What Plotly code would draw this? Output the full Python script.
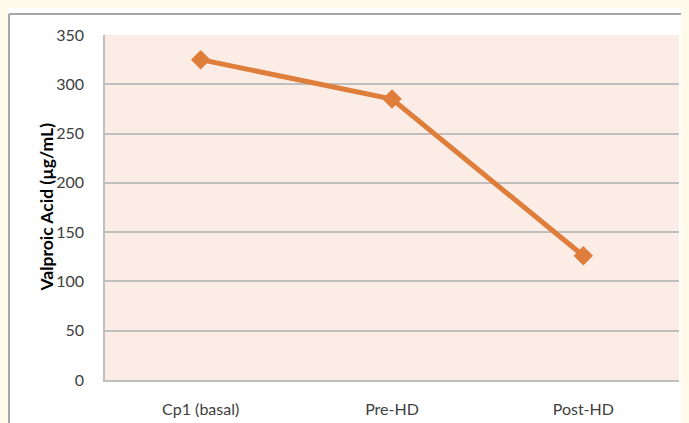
import plotly.graph_objects as go

categories = ["Cp1 (basal)", "Pre-HD", "Post-HD"]
values = [325, 285, 126]
y_ticks = [0, 50, 100, 150, 200, 250, 300, 350]

# page body has an 8px margin, so the figure is laid out 8px smaller
OFF = 8
W, H = 689 - OFF, 423 - OFF
L, R, T, B = 105 - OFF, 10, 35 - OFF, 43
pw, ph = W - L - R, H - T - B

def px_x(x):  # screen px -> paper
    return (x - OFF - L) / pw

def px_y(y):
    return (H - B - (y - OFF)) / ph

fig = go.Figure()
fig.add_trace(go.Scatter(
    x=categories, y=values, mode="lines+markers",
    line=dict(color="#DE7E3A", width=5),
    marker=dict(symbol="diamond", size=15, color="#DE7E3A"),
    showlegend=False,
))

shapes = [
    dict(type="rect", xref="paper", yref="paper", layer="below",
         x0=px_x(7), x1=px_x(720), y0=px_y(460), y1=px_y(5),
         fillcolor="white", line=dict(width=0)),
    dict(type="rect", xref="paper", yref="paper", layer="below",
         x0=0, x1=1, y0=0, y1=1,
         fillcolor="#FCECE6", line=dict(width=0)),
    dict(type="line", xref="paper", yref="paper", layer="below",
         x0=px_x(9), x1=px_x(720), y0=px_y(14), y1=px_y(14),
         line=dict(color="#A6A6A6", width=2)),
    dict(type="line", xref="paper", yref="paper", layer="below",
         x0=px_x(9), x1=px_x(9), y0=px_y(14), y1=px_y(460),
         line=dict(color="#A6A6A6", width=2)),
]

fig.update_layout(
    width=W, height=H,
    margin=dict(l=L, r=R, t=T, b=B, autoexpand=False),
    paper_bgcolor="#FFFAEA",
    plot_bgcolor="#FCECE6",
    font=dict(family="Lato, Open Sans, sans-serif", color="#404040", size=16),
    shapes=shapes,
    annotations=[dict(
        text="<b>Valproic Acid (µg/mL)</b>", textangle=-90,
        xref="paper", yref="paper", x=px_x(46), y=0.5,
        showarrow=False, font=dict(size=17.5, color="#000000"),
        xanchor="center", yanchor="middle",
    )],
)
fig.update_xaxes(
    type="category", range=[-0.5, 2.5], automargin=False,
    showgrid=False, showline=True, linecolor="#BFBFBF", linewidth=1.5,
    ticks="", ticklabelstandoff=14, tickfont=dict(size=16, color="#404040"),
)
fig.update_yaxes(
    range=[0, 350], tickvals=y_ticks, automargin=False,
    showgrid=True, gridcolor="#BFBFBF", gridwidth=1.5,
    showline=True, linecolor="#BFBFBF", linewidth=1.5,
    ticks="", ticklabelstandoff=16, zeroline=False,
    tickfont=dict(size=16, color="#404040"),
)

fig.write_html(
    "out.html",
    post_script="document.body.style.background='#FFFAEA';",
)
